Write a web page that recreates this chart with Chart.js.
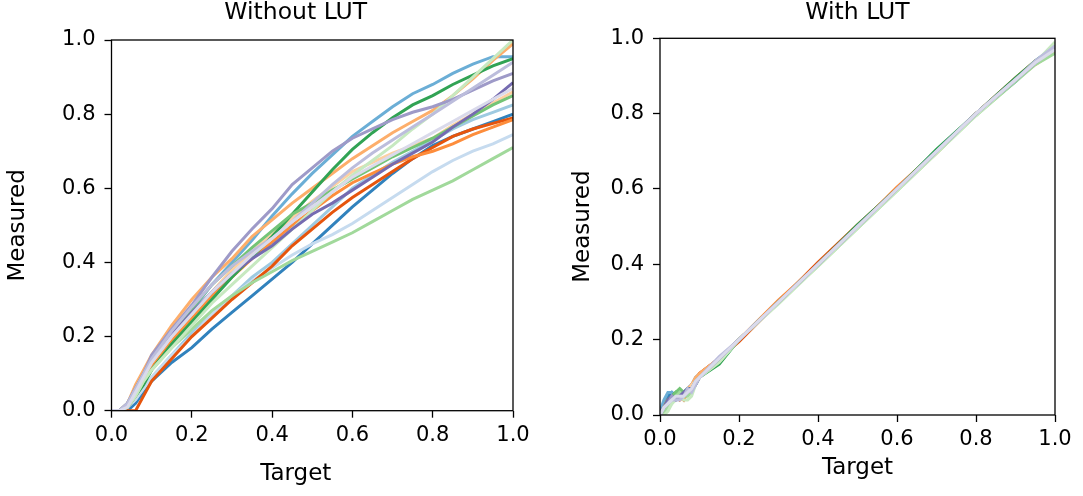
<!DOCTYPE html>
<html>
<head>
<meta charset="utf-8">
<script src="https://cdn.jsdelivr.net/npm/chart.js@4.4.1/dist/chart.umd.min.js"></script>
<style>
  html, body { margin: 0; padding: 0; background: #fff; }
  #wrap { position: relative; width: 1083px; height: 496px; }
  .box { position: absolute; top: 0; height: 496px; }
</style>
</head>
<body>
<div id="wrap">
  <div class="box" style="left:0;width:541px"><canvas id="leftChart"></canvas></div>
  <div class="box" style="left:541px;width:542px"><canvas id="rightChart"></canvas></div>
</div>
<script>
// tab20c colours, one per measured channel
const colors = [
  "#3182bd", "#6baed6", "#9ecae1", "#c6dbef",
  "#e6550d", "#fd8d3c", "#fdae6b", "#fdd0a2",
  "#31a354", "#74c476", "#a1d99b", "#c7e9c0",
  "#756bb1", "#9e9ac8", "#bcbddc", "#dadaeb"
];

const tickValues = [0, 0.2, 0.4, 0.6, 0.8, 1.0];

// Without LUT: target samples and measured values
const leftTarget = [0, 0.02, 0.04, 0.06, 0.08, 0.1, 0.15, 0.2, 0.25, 0.3, 0.35, 0.4,
  0.45, 0.5, 0.55, 0.6, 0.65, 0.7, 0.75, 0.8, 0.85, 0.9, 0.95, 1.0];

const noLut0 = [0, 0, 0, 0.02, 0.05, 0.08, 0.13, 0.17, 0.22, 0.265, 0.31, 0.355, 0.40, 0.45, 0.50, 0.55, 0.595, 0.64, 0.68, 0.715, 0.74, 0.76, 0.78, 0.80];
const noLut1 = [0, 0, 0.01, 0.04, 0.08, 0.12, 0.20, 0.27, 0.34, 0.40, 0.46, 0.525, 0.585, 0.64, 0.69, 0.74, 0.78, 0.82, 0.855, 0.88, 0.91, 0.935, 0.955, 0.955];
const noLut2 = [0, 0, 0.01, 0.03, 0.06, 0.09, 0.15, 0.21, 0.26, 0.31, 0.36, 0.40, 0.45, 0.50, 0.55, 0.60, 0.635, 0.67, 0.70, 0.73, 0.76, 0.785, 0.805, 0.825];
const noLut3 = [0, 0, 0.01, 0.03, 0.06, 0.09, 0.15, 0.20, 0.26, 0.31, 0.35, 0.385, 0.42, 0.45, 0.475, 0.505, 0.54, 0.575, 0.61, 0.645, 0.675, 0.70, 0.72, 0.745];
const noLut4 = [0, 0, 0, 0, 0.04, 0.08, 0.14, 0.20, 0.25, 0.30, 0.345, 0.39, 0.445, 0.49, 0.535, 0.575, 0.61, 0.645, 0.68, 0.71, 0.74, 0.76, 0.775, 0.79];
const noLut5 = [0, 0, 0.01, 0.04, 0.08, 0.12, 0.19, 0.25, 0.31, 0.36, 0.41, 0.455, 0.50, 0.54, 0.58, 0.615, 0.64, 0.665, 0.685, 0.70, 0.72, 0.745, 0.765, 0.785];
const noLut6 = [0, 0, 0.02, 0.07, 0.11, 0.15, 0.23, 0.30, 0.36, 0.41, 0.47, 0.515, 0.56, 0.60, 0.64, 0.68, 0.715, 0.75, 0.78, 0.81, 0.85, 0.895, 0.945, 0.99];
const noLut7 = [0, 0, 0.01, 0.05, 0.09, 0.13, 0.20, 0.26, 0.32, 0.38, 0.43, 0.475, 0.52, 0.565, 0.605, 0.645, 0.67, 0.695, 0.715, 0.735, 0.77, 0.80, 0.83, 0.86];
const noLut8 = [0, 0, 0.01, 0.04, 0.07, 0.11, 0.18, 0.24, 0.30, 0.36, 0.415, 0.47, 0.53, 0.59, 0.65, 0.705, 0.75, 0.79, 0.825, 0.85, 0.88, 0.905, 0.93, 0.95];
const noLut9 = [0, 0, 0.02, 0.06, 0.10, 0.14, 0.21, 0.275, 0.34, 0.39, 0.44, 0.485, 0.53, 0.56, 0.595, 0.625, 0.655, 0.685, 0.71, 0.735, 0.765, 0.795, 0.825, 0.85];
const noLut10 = [0, 0, 0.01, 0.04, 0.08, 0.11, 0.17, 0.22, 0.27, 0.31, 0.345, 0.375, 0.405, 0.43, 0.455, 0.48, 0.51, 0.54, 0.57, 0.595, 0.62, 0.65, 0.68, 0.71];
const noLut11 = [0, 0, 0.01, 0.04, 0.08, 0.11, 0.17, 0.23, 0.29, 0.34, 0.39, 0.44, 0.49, 0.54, 0.59, 0.635, 0.675, 0.715, 0.76, 0.80, 0.85, 0.90, 0.95, 1.0];
const noLut12 = [0, 0, 0.02, 0.06, 0.10, 0.14, 0.205, 0.265, 0.32, 0.37, 0.41, 0.445, 0.49, 0.53, 0.56, 0.595, 0.63, 0.665, 0.695, 0.725, 0.765, 0.80, 0.84, 0.885];
const noLut13 = [0, 0, 0.02, 0.06, 0.10, 0.15, 0.22, 0.285, 0.36, 0.43, 0.49, 0.545, 0.61, 0.655, 0.70, 0.735, 0.76, 0.785, 0.805, 0.82, 0.84, 0.865, 0.89, 0.91];
const noLut14 = [0, 0, 0.02, 0.06, 0.10, 0.14, 0.215, 0.28, 0.34, 0.39, 0.43, 0.465, 0.51, 0.56, 0.61, 0.655, 0.695, 0.73, 0.765, 0.80, 0.835, 0.87, 0.905, 0.94];
const noLut15 = [0, 0, 0.01, 0.05, 0.09, 0.13, 0.20, 0.26, 0.32, 0.37, 0.42, 0.465, 0.51, 0.55, 0.59, 0.63, 0.66, 0.69, 0.72, 0.75, 0.78, 0.81, 0.84, 0.87];

// With LUT: target samples and measured values
const rightTarget = [0, 0.01, 0.02, 0.03, 0.04, 0.05, 0.06, 0.07, 0.08, 0.09, 0.1, 0.15,
  0.2, 0.3, 0.4, 0.5, 0.6, 0.7, 0.8, 0.9, 0.95, 1.0];

const lut0 = [0.01, 0.03, 0.05, 0.06, 0.05, 0.06, 0.05, 0.07, 0.08, 0.09, 0.10, 0.15, 0.20, 0.30, 0.40, 0.50, 0.60, 0.70, 0.80, 0.885, 0.935, 0.975];
const lut1 = [0.01, 0.04, 0.06, 0.06, 0.05, 0.05, 0.06, 0.07, 0.08, 0.10, 0.11, 0.15, 0.20, 0.30, 0.40, 0.50, 0.60, 0.70, 0.80, 0.89, 0.94, 0.98];
const lut2 = [0, 0.02, 0.04, 0.05, 0.04, 0.05, 0.04, 0.06, 0.07, 0.09, 0.10, 0.14, 0.20, 0.30, 0.40, 0.50, 0.60, 0.70, 0.80, 0.89, 0.94, 0.97];
const lut3 = [0, 0.02, 0.03, 0.05, 0.05, 0.06, 0.05, 0.06, 0.08, 0.09, 0.10, 0.15, 0.20, 0.30, 0.40, 0.50, 0.60, 0.70, 0.80, 0.89, 0.935, 0.975];
const lut4 = [0, 0.02, 0.04, 0.05, 0.05, 0.04, 0.05, 0.06, 0.08, 0.09, 0.11, 0.15, 0.195, 0.30, 0.405, 0.505, 0.60, 0.70, 0.80, 0.895, 0.94, 0.97];
const lut5 = [0, 0.02, 0.04, 0.05, 0.05, 0.05, 0.04, 0.06, 0.08, 0.09, 0.11, 0.15, 0.20, 0.305, 0.40, 0.50, 0.605, 0.70, 0.80, 0.89, 0.935, 0.965];
const lut6 = [0, 0.02, 0.04, 0.05, 0.05, 0.05, 0.05, 0.07, 0.08, 0.10, 0.11, 0.15, 0.20, 0.30, 0.40, 0.50, 0.60, 0.695, 0.80, 0.89, 0.93, 0.965];
const lut7 = [0, 0.02, 0.04, 0.05, 0.04, 0.05, 0.05, 0.06, 0.08, 0.09, 0.10, 0.15, 0.20, 0.30, 0.40, 0.50, 0.60, 0.70, 0.80, 0.89, 0.94, 0.97];
const lut8 = [0, 0.02, 0.04, 0.05, 0.06, 0.05, 0.06, 0.07, 0.07, 0.08, 0.10, 0.135, 0.20, 0.30, 0.40, 0.505, 0.60, 0.705, 0.80, 0.895, 0.94, 0.975];
const lut9 = [0, 0.01, 0.03, 0.05, 0.06, 0.07, 0.06, 0.06, 0.07, 0.09, 0.10, 0.15, 0.20, 0.30, 0.40, 0.50, 0.60, 0.70, 0.80, 0.89, 0.935, 0.97];
const lut10 = [0, 0.01, 0.02, 0.03, 0.05, 0.06, 0.05, 0.05, 0.06, 0.08, 0.10, 0.14, 0.20, 0.30, 0.395, 0.495, 0.595, 0.695, 0.795, 0.885, 0.93, 0.96];
const lut11 = [0, 0, 0.01, 0.03, 0.04, 0.05, 0.04, 0.04, 0.05, 0.08, 0.10, 0.14, 0.20, 0.295, 0.395, 0.495, 0.595, 0.695, 0.795, 0.89, 0.935, 0.99];
const lut12 = [0.01, 0.02, 0.04, 0.05, 0.04, 0.05, 0.06, 0.07, 0.07, 0.08, 0.10, 0.15, 0.20, 0.30, 0.40, 0.50, 0.60, 0.70, 0.80, 0.89, 0.935, 0.975];
const lut13 = [0, 0.02, 0.03, 0.05, 0.04, 0.05, 0.05, 0.06, 0.07, 0.09, 0.10, 0.15, 0.20, 0.30, 0.40, 0.50, 0.60, 0.70, 0.80, 0.89, 0.935, 0.975];
const lut14 = [0, 0.02, 0.03, 0.04, 0.04, 0.04, 0.05, 0.07, 0.06, 0.08, 0.10, 0.155, 0.20, 0.30, 0.40, 0.50, 0.60, 0.70, 0.80, 0.89, 0.94, 0.98];
const lut15 = [0, 0.02, 0.03, 0.04, 0.05, 0.05, 0.05, 0.06, 0.07, 0.09, 0.10, 0.15, 0.20, 0.30, 0.40, 0.50, 0.60, 0.70, 0.80, 0.89, 0.935, 0.97];

const noLutSeries = [noLut0, noLut1, noLut2, noLut3, noLut4, noLut5, noLut6, noLut7,
  noLut8, noLut9, noLut10, noLut11, noLut12, noLut13, noLut14, noLut15];
const lutSeries = [lut0, lut1, lut2, lut3, lut4, lut5, lut6, lut7,
  lut8, lut9, lut10, lut11, lut12, lut13, lut14, lut15];

const FONT = "'DejaVu Sans', sans-serif";

// matplotlib draws a full box round the axes
const boxPlugin = {
  id: "axesBox",
  afterDraw(chart) {
    const a = chart.chartArea;
    const ctx = chart.ctx;
    ctx.save();
    ctx.strokeStyle = "#000";
    ctx.lineWidth = 1.3;
    ctx.strokeRect(a.left, a.top, a.right - a.left, a.bottom - a.top);
    ctx.restore();
  }
};

// the left panel's title and x label sit a bit left of the axes centre
const labelShiftPlugin = {
  id: "labelShift",
  afterLayout(chart, args, opts) {
    const dx = opts.dx || 0;
    if (!dx) return;
    if (chart.titleBlock) { chart.titleBlock.left += dx; chart.titleBlock.right += dx; }
    const xs = chart.scales.x;
    if (!xs._shifted) {
      const orig = xs.drawTitle;
      xs.drawTitle = function () {
        const l = this.left, r = this.right;
        this.left = l + dx;
        this.right = r + dx;
        orig.call(this);
        this.left = l;
        this.right = r;
      };
      xs._shifted = true;
    }
  }
};

function makeDatasets(xs, series) {
  return series.map((ys, i) => ({
    data: xs.map((x, j) => ({ x: x, y: ys[j] })),
    borderColor: colors[i],
    borderWidth: 3,
    pointRadius: 0,
    tension: 0,
    fill: false,
    order: series.length - i
  }));
}

function makeChart(id, titleText, xs, series, g) {
  return new Chart(document.getElementById(id), {
    type: "line",
    data: { datasets: makeDatasets(xs, series) },
    plugins: [boxPlugin, labelShiftPlugin],
    options: {
      responsive: true,
      maintainAspectRatio: false,
      animation: false,
      layout: { padding: { left: 0, right: g.padRight, top: 0, bottom: 0 } },
      plugins: {
        legend: { display: false },
        tooltip: { enabled: false },
        labelShift: { dx: g.shift },
        title: {
          display: true,
          text: titleText,
          fullSize: false,
          color: "#000",
          font: { family: FONT, size: 23.5, weight: "normal", lineHeight: 1 },
          padding: { top: 1, bottom: g.titleBottom }
        }
      },
      scales: {
        x: {
          type: "linear",
          min: 0,
          max: 1,
          afterBuildTicks: (s) => { s.ticks = tickValues.map((v) => ({ value: v })); },
          afterFit: (s) => { s.height = g.xHeight; },
          ticks: {
            color: "#000",
            padding: 5,
            font: { family: FONT, size: 21 },
            callback: (v) => v.toFixed(1)
          },
          grid: { drawOnChartArea: false, tickLength: 7, tickColor: "#000", tickWidth: 1.3 },
          border: { display: false },
          title: {
            display: true,
            text: "Target",
            color: "#000",
            font: { family: FONT, size: 23 },
            padding: { top: 0, bottom: g.xTitlePad }
          }
        },
        y: {
          min: 0,
          max: 1,
          afterBuildTicks: (s) => { s.ticks = tickValues.map((v) => ({ value: v })); },
          afterFit: (s) => { s.width = g.yWidth; },
          ticks: {
            color: "#000",
            padding: 9,
            font: { family: FONT, size: 21 },
            callback: (v) => v.toFixed(1)
          },
          grid: { drawOnChartArea: false, tickLength: 7, tickColor: "#000", tickWidth: 1.3 },
          border: { display: false },
          title: {
            display: true,
            text: "Measured",
            color: "#000",
            font: { family: FONT, size: 23 },
            padding: { top: g.yTitlePad, bottom: 0 }
          }
        }
      }
    }
  });
}

makeChart("leftChart", "Without LUT", leftTarget, noLutSeries,
  { padRight: 28, titleBottom: 15.5, xHeight: 85.3, xTitlePad: 8, yWidth: 111.5, yTitlePad: 4, shift: -16.5 });
makeChart("rightChart", "With LUT", rightTarget, lutSeries,
  { padRight: 28, titleBottom: 13.8, xHeight: 81, xTitlePad: 14, yWidth: 119, yTitlePad: 28, shift: 0 });
</script>
</body>
</html>
